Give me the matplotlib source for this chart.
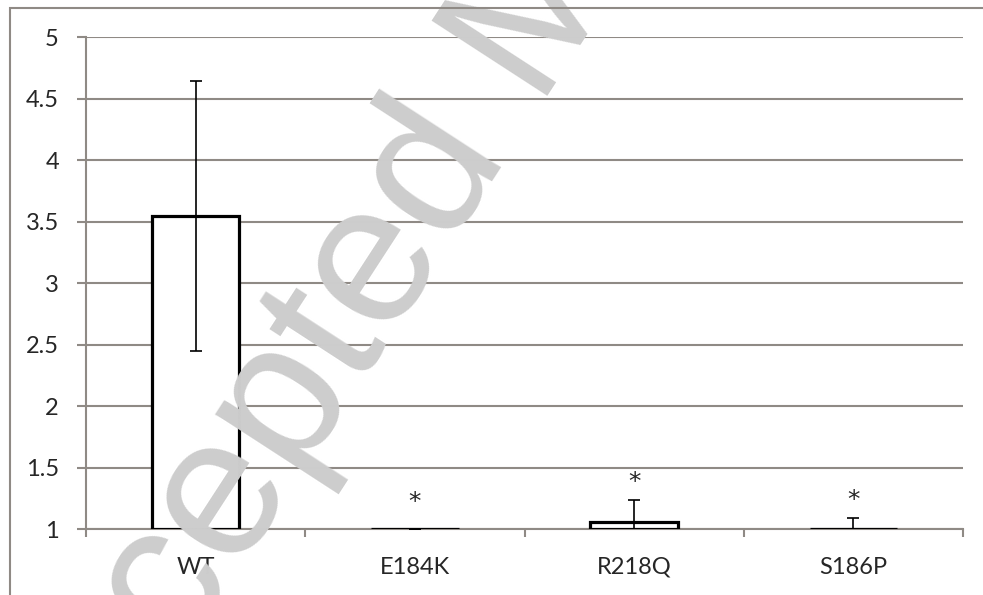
import numpy as np
import matplotlib.pyplot as plt
from matplotlib.patches import Rectangle

plt.rcParams['font.family'] = ['Lato', 'DejaVu Sans']

# values (baseline of the axis is 1)
labels = ['WT', 'E184K', 'R218Q', 'S186P']
means = [3.545, 1.0, 1.053, 1.0]
errs = [1.095, 0.0, 0.185, 0.09]
star_y = [None, 1.24, 1.40, 1.26]

grid_col = '#8f8a85'
txt_col = '#262626'

fig = plt.figure(figsize=(9.83, 5.95), dpi=100)
ax = fig.add_axes([0.0875, 0.1109, 0.8922, 0.8269])

# watermark, running off the page like in the original
fig.text(0.056, -0.437, 'Accepted Manuscript', fontsize=144, color='#cdcdcd',
         rotation=57, rotation_mode='anchor', ha='left', va='baseline',
         family='Liberation Sans', zorder=0)

x = np.arange(len(labels))
base = 1.0
ax.bar(x, np.array(means) - base, bottom=base, width=0.4, color='white',
       edgecolor='black', linewidth=2.3, zorder=3)
ax.errorbar(x, means, yerr=errs, fmt='none', ecolor='black', elinewidth=1.2,
            capsize=4.5, capthick=1.2, zorder=4)

for xi, sy in zip(x, star_y):
    if sy is not None:
        ax.text(xi, sy, '*', ha='center', va='center_baseline', fontsize=18,
                color=txt_col, family='DejaVu Sans', zorder=5)

ax.set_xlim(-0.5, len(labels) - 0.5)
ax.set_ylim(1, 5)
ax.set_yticks(np.arange(1, 5.01, 0.5))
ax.set_yticklabels(['1', '1.5', '2', '2.5', '3', '3.5', '4', '4.5', '5'])
ax.set_xticks(x)
ax.set_xticklabels(labels)
ax.set_xticks(np.arange(-0.5, len(labels)), minor=True)

ax.patch.set_alpha(0)
ax.grid(axis='y', color=grid_col, linewidth=1.5, zorder=1)
ax.set_axisbelow(True)
for s in ['top', 'right']:
    ax.spines[s].set_visible(False)
for s in ['left', 'bottom']:
    ax.spines[s].set_color(grid_col)
    ax.spines[s].set_linewidth(1.5)

ax.tick_params(axis='y', length=6.5, width=1.5, color=grid_col,
               labelsize=17, labelcolor=txt_col, pad=13)
ax.tick_params(axis='x', which='major', length=0, labelsize=17,
               labelcolor=txt_col, pad=20)
ax.tick_params(axis='x', which='minor', length=6, width=1.5, color=grid_col)

# outer chart frame
fig.patches.append(Rectangle((10 / 983, -0.2), 1.2, 1.2 - 8 / 595,
                             transform=fig.transFigure, fill=False,
                             edgecolor=grid_col, linewidth=1.5))

fig.savefig('out.png', dpi=100)
